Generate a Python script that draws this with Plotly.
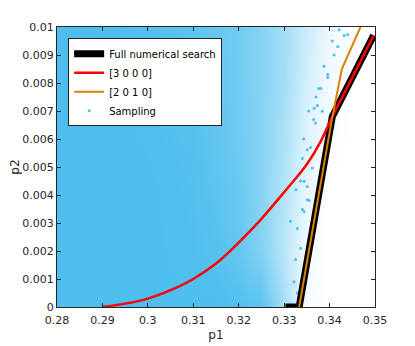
import plotly.graph_objects as go

# full numerical search (thick black)
full_p1 = [0.3303, 0.3333, 0.3406, 0.3497]
full_p2 = [0.0, 0.0, 0.0068, 0.0097]

# [3 0 0 0] (red)
red_p1 = [0.290, 0.295, 0.300, 0.305, 0.310, 0.315, 0.320, 0.325, 0.330, 0.335, 0.338, 0.3406, 0.345, 0.3497]
red_p2 = [0.0, 0.00012, 0.0003, 0.0006, 0.0010, 0.00155, 0.0023, 0.00315, 0.0041, 0.0051, 0.0059, 0.0068, 0.0082, 0.0097]

# [2 0 1 0] (orange)
orange_p1 = [0.3333, 0.3404, 0.3427, 0.3468]
orange_p2 = [0.0, 0.0066, 0.0085, 0.0100]

# sampling cloud: share of area covered by samples
dens_p1 = [0.28, 0.29, 0.30, 0.31, 0.315, 0.32, 0.325, 0.33, 0.335, 0.34, 0.345, 0.35]
dens_p2 = [0.0, 0.002, 0.004, 0.006, 0.008, 0.010]
dens = [
    [1, 1, 1, 1, 1, 0.97, 0.92, 0.5, 0.05, 0, 0, 0],
    [1, 1, 1, 0.98, 0.95, 0.87, 0.7, 0.4, 0.06, 0, 0, 0],
    [1, 1, 1, 0.97, 0.92, 0.84, 0.67, 0.42, 0.12, 0, 0, 0],
    [1, 1, 0.99, 0.95, 0.89, 0.8, 0.68, 0.47, 0.18, 0.03, 0, 0],
    [1, 1, 0.98, 0.93, 0.87, 0.79, 0.68, 0.52, 0.24, 0.06, 0, 0],
    [1, 0.99, 0.96, 0.91, 0.85, 0.79, 0.68, 0.52, 0.3, 0.1, 0.02, 0],
]

# loose sample points
samp_p1 = [0.3440, 0.3418, 0.3410, 0.3396, 0.3376, 0.3370, 0.3354, 0.3365, 0.3343, 0.3358,
           0.3340, 0.3355, 0.3344, 0.3329, 0.3336, 0.3325, 0.3322, 0.3329, 0.3336, 0.3351,
           0.3421, 0.3432, 0.3388, 0.3396, 0.3381, 0.3366, 0.3406,
           0.3362, 0.3344, 0.3351, 0.3314, 0.3340, 0.3326, 0.3373, 0.3351, 0.3369, 0.3384]
samp_p2 = [0.00973, 0.0093, 0.0090, 0.0082, 0.0078, 0.0075, 0.0070, 0.0067, 0.0060, 0.0057,
           0.0053, 0.0038, 0.0034, 0.0028, 0.0021, 0.0017, 0.0009, 0.0005, 0.0045, 0.0043,
           0.0099, 0.0097, 0.0086, 0.0083, 0.0078, 0.0071, 0.0095,
           0.00496, 0.00449, 0.00383, 0.00306, 0.00348, 0.00419, 0.0072, 0.00562, 0.00657, 0.00699]

blue = '#4DBEEE'

fig = go.Figure()

fig.add_trace(go.Heatmap(
    x=dens_p1, y=dens_p2, z=dens, zmin=0, zmax=1, zsmooth='best',
    colorscale=[[0, 'white'], [1, blue]], showscale=False, hoverinfo='skip'))

fig.add_trace(go.Scatter(
    x=samp_p1, y=samp_p2, mode='markers', name='Sampling', legendrank=4,
    marker=dict(color=blue, size=3)))

fig.add_trace(go.Scatter(
    x=full_p1, y=full_p2, mode='lines', name='Full numerical search', legendrank=1,
    line=dict(color='black', width=7)))

fig.add_trace(go.Scatter(
    x=red_p1, y=red_p2, mode='lines', name='[3 0 0 0]', legendrank=2,
    line=dict(color='#ff0000', width=2.5, shape='spline', smoothing=1)))

fig.add_trace(go.Scatter(
    x=orange_p1, y=orange_p2, mode='lines', name='[2 0 1 0]', legendrank=3,
    line=dict(color='#d98200', width=2)))

axis_style = dict(
    showline=True, linecolor='#262626', linewidth=1, mirror='ticks',
    ticks='inside', ticklen=4, tickcolor='#262626', showgrid=False, zeroline=False,
    tickfont=dict(size=11, color='#262626'), automargin=False,
)

fig.update_xaxes(range=[0.28, 0.35], dtick=0.01, tick0=0.28, tickformat='.2~f',
                 ticklabelstandoff=3,
                 title=dict(text='p1', font=dict(size=12, color='#262626'), standoff=4),
                 **axis_style)
fig.update_yaxes(range=[0, 0.01], dtick=0.001, tick0=0, tickformat='~g',
                 title=dict(text='p2', font=dict(size=12, color='#262626'), standoff=4),
                 **axis_style)

# page body adds an 8px offset, so the figure is sized to fit the window
fig.update_layout(
    width=407, height=338,
    margin=dict(l=49, r=40, t=19, b=39),
    paper_bgcolor='white', plot_bgcolor='white',
    font=dict(family='DejaVu Sans', color='#262626'),
    legend=dict(x=0.035, y=0.96, xanchor='left', yanchor='top',
                bgcolor='white', bordercolor='#262626', borderwidth=1,
                font=dict(size=10, color='black'), tracegroupgap=0,
                itemwidth=30),
)

fig.write_html("out.html")
